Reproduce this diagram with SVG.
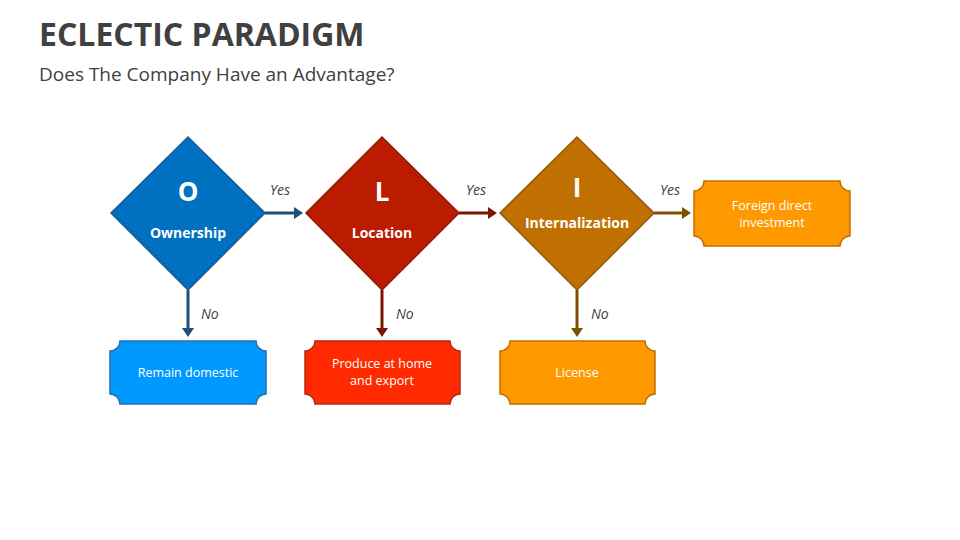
<svg xmlns="http://www.w3.org/2000/svg" width="960" height="540" viewBox="0 0 960 540">
<defs>
<style>
text{font-family:"Open Sans","Noto Sans","Liberation Sans",sans-serif}
.t{font-size:32px;font-weight:bold;fill:#404040}
.s{font-size:19px;fill:#404040}
.big{font-size:26px;font-weight:bold;fill:#fff;text-anchor:middle}
.lab{font-size:14px;font-weight:bold;fill:#fff;text-anchor:middle}
.bx{font-size:12.5px;fill:#fff;text-anchor:middle}
.yn{font-size:14px;font-style:italic;fill:#404040}
.c{fill:none;stroke-width:3}
</style>
<marker id="mb" markerWidth="4" markerHeight="4" refX="2" refY="2" orient="auto" markerUnits="strokeWidth"><path d="M0,0L3,2L0,4Z" fill="#1F4E79"/></marker>
<marker id="mr" markerWidth="4" markerHeight="4" refX="2" refY="2" orient="auto" markerUnits="strokeWidth"><path d="M0,0L3,2L0,4Z" fill="#7B1500"/></marker>
<marker id="mo" markerWidth="4" markerHeight="4" refX="2" refY="2" orient="auto" markerUnits="strokeWidth"><path d="M0,0L3,2L0,4Z" fill="#7F4F00"/></marker>
</defs>
<rect width="960" height="540" fill="#fff"/>
<text class="t" x="39" y="46">ECLECTIC PARADIGM</text>
<text class="s" x="39" y="81">Does The Company Have an Advantage?</text>
<g id="connectors">
<path class="c" stroke="#1F4E79" d="M265,213H300" marker-end="url(#mb)"/>
<path class="c" stroke="#1F4E79" d="M188,290V334" marker-end="url(#mb)"/>
<path class="c" stroke="#7B1500" d="M459,213H494" marker-end="url(#mr)"/>
<path class="c" stroke="#7B1500" d="M382,290V334" marker-end="url(#mr)"/>
<path class="c" stroke="#7F4F00" d="M654,213H688" marker-end="url(#mo)"/>
<path class="c" stroke="#7F4F00" d="M577,290V334" marker-end="url(#mo)"/>
<text class="yn" x="270" y="195">Yes</text>
<text class="yn" x="466" y="195">Yes</text>
<text class="yn" x="660" y="195">Yes</text>
<text class="yn" x="201" y="319">No</text>
<text class="yn" x="396" y="319">No</text>
<text class="yn" x="591" y="319">No</text>
</g>
<g id="ownership">
<path d="M188,137L265,213L188,290L111,213Z" fill="#0070C0" stroke="#1F5A96" stroke-width="1.5"/>
<text class="big" x="188" y="201">O</text>
<text class="lab" x="188" y="238">Ownership</text>
</g>
<g id="location">
<path d="M382,137L459,213L382,290L306,213Z" fill="#BB1C00" stroke="#8E1A06" stroke-width="1.5"/>
<text class="big" x="382" y="201">L</text>
<text class="lab" x="382" y="238">Location</text>
</g>
<g id="internalization">
<path d="M577,137L654,213L577,290L500,213Z" fill="#C07000" stroke="#8F5A10" stroke-width="1.5"/>
<text class="big" x="577" y="197">I</text>
<text class="lab" x="577" y="228">Internalization</text>
</g>
<g id="remain">
<path d="M120,341H256A10,10 0 0 0 266,351V394A10,10 0 0 0 256,404H120A10,10 0 0 0 110,394V351A10,10 0 0 0 120,341Z" fill="#0099FF" stroke="#1F6FB0" stroke-width="1.5"/>
<text class="bx" x="188" y="377">Remain domestic</text>
</g>
<g id="produce">
<path d="M315,341H450A10,10 0 0 0 460,351V394A10,10 0 0 0 450,404H315A10,10 0 0 0 305,394V351A10,10 0 0 0 315,341Z" fill="#FF2A00" stroke="#B52A10" stroke-width="1.5"/>
<text class="bx" x="382" y="368">Produce at home</text>
<text class="bx" x="382" y="385">and export</text>
</g>
<g id="license">
<path d="M510,341H645A10,10 0 0 0 655,351V394A10,10 0 0 0 645,404H510A10,10 0 0 0 500,394V351A10,10 0 0 0 510,341Z" fill="#FF9900" stroke="#C07000" stroke-width="1.5"/>
<text class="bx" x="577" y="377">License</text>
</g>
<g id="fdi">
<path d="M704,181H840A10,10 0 0 0 850,191V236A10,10 0 0 0 840,246H704A10,10 0 0 0 694,236V191A10,10 0 0 0 704,181Z" fill="#FF9900" stroke="#C07000" stroke-width="1.5"/>
<text class="bx" x="772" y="210">Foreign direct</text>
<text class="bx" x="772" y="227">investment</text>
</g>
</svg>
